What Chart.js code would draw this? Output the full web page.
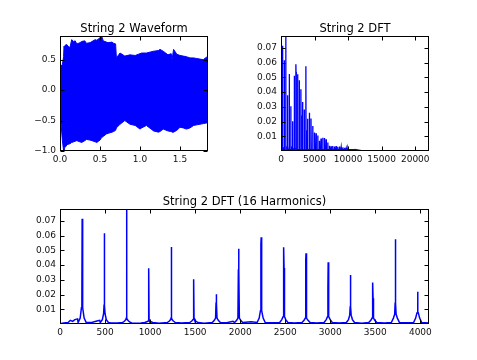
<!DOCTYPE html>
<html>
<head>
<meta charset="utf-8">
<script src="https://cdn.jsdelivr.net/npm/chart.js@4.4.1/dist/chart.umd.min.js"></script>
<style>
body { margin: 0; background: #fff; }
#wrap { position: relative; width: 477px; height: 360px; }
canvas { position: absolute; }
</style>
</head>
<body>
<div id="wrap">
  <canvas id="chart_wave" width="240" height="175" style="left:0;top:0"></canvas>
  <canvas id="chart_dft" width="240" height="175" style="left:237px;top:0"></canvas>
  <canvas id="chart_harm" width="477" height="185" style="left:0;top:175px"></canvas>
</div>
<script>
// waveform envelope, seconds / amplitude
const waveT = [0, 0.01, 0.03, 0.045, 0.05, 0.055, 0.065, 0.085, 0.1, 0.125,
  0.146, 0.17, 0.19, 0.21, 0.25, 0.27, 0.31, 0.33, 0.375, 0.40,
  0.44, 0.46, 0.5, 0.52, 0.54, 0.58, 0.6, 0.65, 0.67, 0.695,
  0.705, 0.75, 0.81, 0.875, 0.94, 0.96, 1.0, 1.02, 1.08, 1.17,
  1.23, 1.25, 1.29, 1.35, 1.39, 1.40, 1.42, 1.46, 1.5, 1.54,
  1.58, 1.625, 1.67, 1.71, 1.75, 1.79, 1.83, 1.85];
const waveUpper = [0.05, 0.40, 0.42, 0.55, 0.72, 0.70, 0.74, 0.75, 0.72, 0.70,
  0.83, 0.80, 0.81, 0.76, 0.78, 0.80, 0.81, 0.77, 0.78, 0.80,
  0.83, 0.82, 0.86, 0.89, 0.81, 0.79, 0.78, 0.79, 0.77, 0.76,
  0.53, 0.61, 0.56, 0.58, 0.57, 0.58, 0.60, 0.61, 0.61, 0.64,
  0.65, 0.67, 0.64, 0.58, 0.60, 0.50, 0.67, 0.59, 0.57, 0.56,
  0.55, 0.53, 0.53, 0.52, 0.51, 0.50, 0.54, 0.56];
const waveLower = [-0.1, -0.50, -0.83, -1.0, -1.0, -0.94, -0.94, -0.90, -0.89, -0.88,
  -0.86, -0.85, -0.84, -0.83, -0.85, -0.86, -0.83, -0.81, -0.82, -0.83,
  -0.85, -0.86, -0.82, -0.78, -0.76, -0.72, -0.71, -0.69, -0.68, -0.66,
  -0.62, -0.56, -0.50, -0.56, -0.58, -0.60, -0.64, -0.62, -0.58, -0.67,
  -0.69, -0.68, -0.64, -0.67, -0.68, -0.69, -0.69, -0.66, -0.61, -0.62,
  -0.64, -0.62, -0.58, -0.57, -0.56, -0.55, -0.54, -0.53];

// first 16 harmonics: frequency, peak height, inner line, skirt, base
const harmHz = [246, 492, 739, 986, 1236, 1485, 1735, 1983, 2233, 2484, 2731, 2977, 3224, 3472, 3723, 3970];
const harmPeak = [0.0714, 0.0616, 0.085, 0.0378, 0.0523, 0.0303, 0.0202, 0.051, 0.0589, 0.0521, 0.048, 0.0419, 0.0332, 0.0282, 0.0575, 0.0218];
const harmShoulder = [0.0175, 0.0127, 0.004, 0.003, 0.004, 0.004, 0.014, 0.0366, 0.0536, 0.038, 0.0434, 0.024, 0.0116, 0.0175, 0.014, 0.0075];
const harmSkirt = [0.011, 0.007, 0.003, 0.002, 0.003, 0.003, 0.004, 0.004, 0.009, 0.005, 0.004, 0.005, 0.006, 0.004, 0.0066, 0.0075];
const harmBase = [0.004, 0.003, 0.002, 0.0015, 0.002, 0.002, 0.0025, 0.0025, 0.004, 0.003, 0.0025, 0.003, 0.003, 0.0025, 0.004, 0.004];
const footAmp = 0.001;

// higher harmonics only seen in the full DFT
const upperHz = [4220, 4468, 4717, 4966, 5215, 5464, 5713, 5963, 6212, 6462, 6712, 6962, 7212, 7462,
  7713, 7963, 8214, 8465, 8716, 8967, 9218, 9470, 9722, 9974, 10226, 10478, 10730, 10982];
const upperPeak = [0.026, 0.022, 0.017, 0.0125, 0.012, 0.0105, 0.007, 0.0085, 0.009, 0.0088, 0.008, 0.0058, 0.0035, 0.0032,
  0.0034, 0.003, 0.0033, 0.0028, 0.003, 0.0025, 0.0024, 0.0022, 0.002, 0.0018, 0.0012, 0.001, 0.0008, 0.0006];

// noise floor between the peaks
const noiseHz = [0, 40, 90, 115, 140, 165, 195, 300, 360, 410, 440, 560, 640, 700, 800, 900, 1100, 1350, 1600,
  1850, 1920, 2060, 2120, 2350, 2600, 2850, 3100, 3350, 3600, 3850, 4100, 4600, 5500, 7000, 9000, 12000, 16000, 22050];
const noiseAmp = [0.0002, 0.0006, 0.001, 0.0025, 0.0018, 0.003, 0.0035, 0.001, 0.0012, 0.002, 0.0025, 0.0008, 0.0006, 0.0012, 0.0005, 0.0006, 0.0005, 0.0006, 0.0005,
  0.0008, 0.0018, 0.0012, 0.0016, 0.0008, 0.0006, 0.0007, 0.0006, 0.0005, 0.0006, 0.0008, 0.0006, 0.001, 0.0008, 0.0006, 0.0004, 0.0002, 0.0001, 0.0001];

// tick labels
const waveXTicks = [0, 0.5, 1.0, 1.5];
const waveYTicks = [-1.0, -0.5, 0.0, 0.5];
const dftXTicks = [0, 5000, 10000, 15000, 20000];
const harmXTicks = [0, 500, 1000, 1500, 2000, 2500, 3000, 3500, 4000];
const ampTicks = [0.01, 0.02, 0.03, 0.04, 0.05, 0.06, 0.07];

const BLUE = '#0000ff';
const FONT = { family: 'DejaVu Sans', size: 9 };

// matplotlib風の枠・内向き目盛・タイトル
const mplFrame = {
  id: 'mplFrame',
  afterDraw: function(chart, args, opts) {
    var ctx = chart.ctx, a = chart.chartArea;
    var xs = chart.scales.x, ys = chart.scales.y;
    var l = Math.round(a.left) + 0.5, r = Math.round(a.right) - 0.5;
    var t = Math.round(a.top) + 0.5, b = Math.round(a.bottom) - 0.5;
    ctx.save();
    ctx.strokeStyle = '#000';
    ctx.lineWidth = 1;
    ctx.beginPath();
    xs.ticks.forEach(function(tk) {
      var px = Math.round(xs.getPixelForValue(tk.value)) + 0.5;
      ctx.moveTo(px, b); ctx.lineTo(px, b - 4);
      ctx.moveTo(px, t); ctx.lineTo(px, t + 4);
    });
    ys.ticks.forEach(function(tk) {
      var py = Math.round(ys.getPixelForValue(tk.value)) + 0.5;
      ctx.moveTo(l, py); ctx.lineTo(l + 4, py);
      ctx.moveTo(r, py); ctx.lineTo(r - 4, py);
    });
    ctx.stroke();
    ctx.strokeRect(l, t, r - l, b - t);
    ctx.fillStyle = '#000';
    ctx.font = '11.5px "DejaVu Sans"';
    ctx.textAlign = 'center';
    ctx.textBaseline = 'alphabetic';
    ctx.fillText(opts.title, (a.left + a.right) / 2, a.top - 4.5);
    ctx.restore();
  }
};

function axis(min, max, ticks, fmt, size, isX) {
  return {
    type: 'linear', min: min, max: max,
    grid: { display: false, drawTicks: false },
    border: { display: false },
    ticks: { font: FONT, color: '#111', padding: isX ? 3 : 4, maxRotation: 0, minRotation: 0,
      autoSkip: false, includeBounds: false, callback: fmt },
    afterBuildTicks: function(s) { s.ticks = ticks.map(function(v) { return { value: v }; }); },
    afterFit: function(s) { if (isX) { s.height = size; } else { s.width = size; } }
  };
}

function minus(v, d) {
  return (v < 0 ? '\u2212' : '') + Math.abs(v).toFixed(d);
}

function spectrum(withUpper) {
  var pts = [];
  for (var i = 0; i < noiseHz.length; i++) {
    pts.push({ x: noiseHz[i], y: noiseAmp[i] });
  }
  for (var i = 0; i < harmHz.length; i++) {
    var f = harmHz[i];
    pts.push({ x: f - 45, y: footAmp }, { x: f - 22, y: harmBase[i] }, { x: f - 8, y: harmSkirt[i] },
      { x: f - 3, y: harmShoulder[i] }, { x: f, y: harmPeak[i] }, { x: f + 3, y: harmShoulder[i] },
      { x: f + 8, y: harmSkirt[i] }, { x: f + 22, y: harmBase[i] }, { x: f + 45, y: footAmp });
  }
  if (withUpper) {
    for (var i = 0; i < upperHz.length; i++) {
      pts.push({ x: upperHz[i] - 45, y: footAmp }, { x: upperHz[i], y: upperPeak[i] }, { x: upperHz[i] + 45, y: footAmp });
    }
  }
  pts.sort(function(p, q) { return p.x - q.x; });
  return pts;
}

function base_options(title, pad, xs, ys) {
  return {
    responsive: false, animation: false, events: [],
    layout: { autoPadding: false, padding: pad },
    plugins: { legend: { display: false }, tooltip: { enabled: false }, mplFrame: { title: title } },
    scales: { x: xs, y: ys }
  };
}

// 波形
function waveform() {
  var up = [], lo = [];
  for (var i = 0; i < waveT.length; i++) {
    up.push({ x: waveT[i], y: waveUpper[i] });
    lo.push({ x: waveT[i], y: waveLower[i] });
  }
  new Chart(document.getElementById('chart_wave'), {
    type: 'line',
    data: { datasets: [
      { data: up, borderColor: BLUE, backgroundColor: BLUE, borderWidth: 1, pointRadius: 0, fill: '+1', tension: 0 },
      { data: lo, borderColor: BLUE, borderWidth: 1, pointRadius: 0, fill: false, tension: 0 }
    ] },
    options: base_options('String 2 Waveform', { left: 0, right: 32, top: 36, bottom: 0 },
      axis(0, 1.85, waveXTicks, function(v) { return v.toFixed(1); }, 24, true),
      axis(-1.0, 0.89, waveYTicks, function(v) { return minus(v, 1); }, 60, false)),
    plugins: [mplFrame]
  });
}

// DFT全体
function dft() {
  new Chart(document.getElementById('chart_dft'), {
    type: 'line',
    data: { datasets: [{ data: spectrum(true), borderColor: BLUE, borderWidth: 1.3, pointRadius: 0, fill: false, tension: 0 }] },
    options: base_options('String 2 DFT', { left: 0, right: 48, top: 36, bottom: 0 },
      axis(0, 22050, dftXTicks, function(v) { return String(v); }, 24, true),
      axis(0, 0.078, ampTicks, function(v) { return v.toFixed(2); }, 44, false)),
    plugins: [mplFrame]
  });
}

// 16倍音まで
function dft_harmonics() {
  new Chart(document.getElementById('chart_harm'), {
    type: 'line',
    data: { datasets: [{ data: spectrum(false), borderColor: BLUE, borderWidth: 1.5, pointRadius: 0, fill: false, tension: 0 }] },
    options: base_options('String 2 DFT (16 Harmonics)', { left: 0, right: 48, top: 34, bottom: 12 },
      axis(0, 4096, harmXTicks, function(v) { return String(v); }, 24, true),
      axis(0, 0.078, ampTicks, function(v) { return v.toFixed(2); }, 60, false)),
    plugins: [mplFrame]
  });
}

waveform();
dft();
dft_harmonics();
</script>
</body>
</html>
